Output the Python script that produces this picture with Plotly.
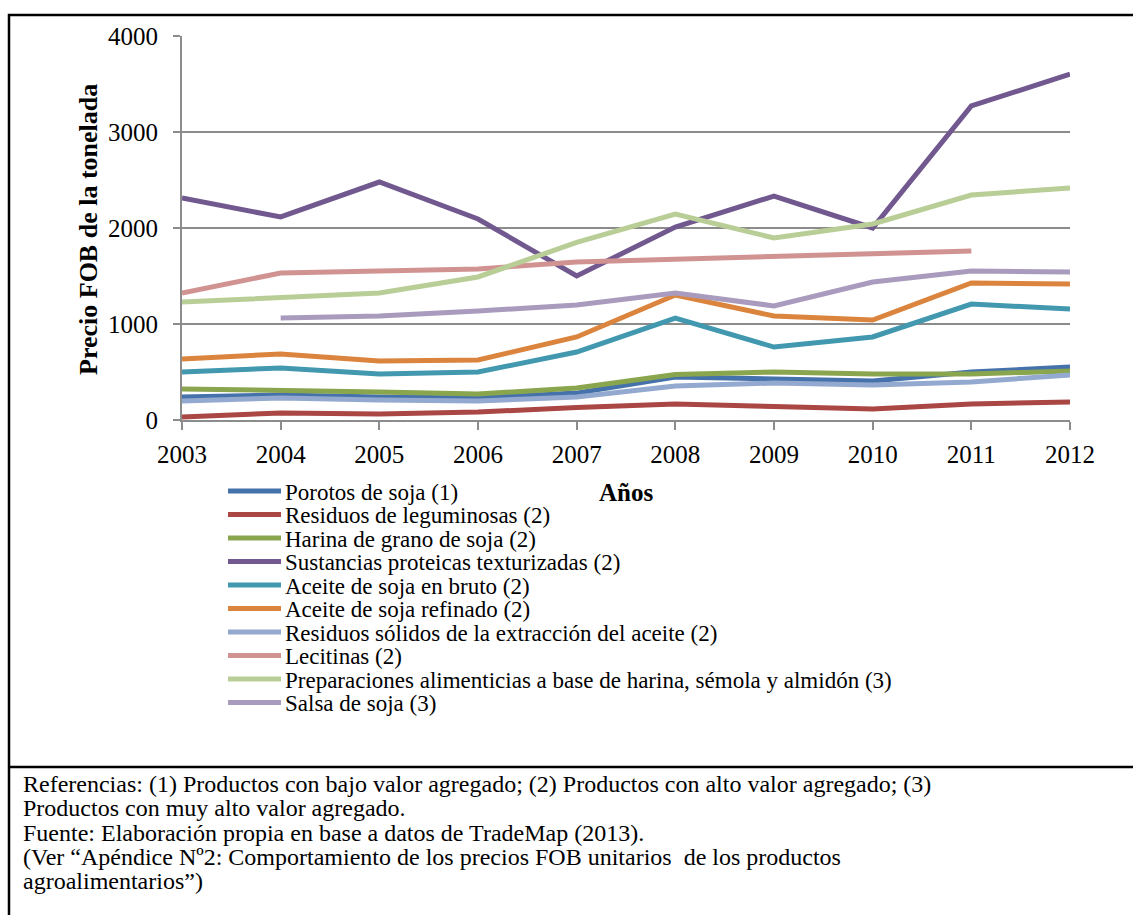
import plotly.graph_objects as go

years = [2003, 2004, 2005, 2006, 2007, 2008, 2009, 2010, 2011, 2012]

names = [
    "Porotos de soja (1)",
    "Residuos de leguminosas (2)",
    "Harina de grano de soja (2)",
    "Sustancias proteicas texturizadas (2)",
    "Aceite de soja en bruto (2)",
    "Aceite de soja refinado (2)",
    "Residuos sólidos de la extracción del aceite (2)",
    "Lecitinas (2)",
    "Preparaciones alimenticias a base de harina, sémola y almidón (3)",
    "Salsa de soja (3)",
]

porotos = [240, 260, 240, 230, 280, 448, 427, 406, 500, 552]
residuos_leg = [31, 73, 63, 83, 130, 167, 140, 115, 167, 188]
harina = [323, 312, 292, 271, 333, 475, 500, 479, 479, 510]
sustancias = [2312, 2115, 2479, 2094, 1500, 2010, 2333, 2000, 3271, 3604]
aceite_bruto = [500, 542, 479, 500, 708, 1062, 760, 865, 1208, 1156]
aceite_ref = [635, 688, 615, 625, 865, 1302, 1083, 1042, 1427, 1417]
residuos_sol = [198, 229, 208, 198, 240, 354, 385, 365, 396, 469]
lecitinas = [1323, 1531, 1552, 1573, 1646, 1677, 1708, 1740, 1760, None]
preparaciones = [1229, 1281, 1323, 1490, 1850, 2146, 1896, 2042, 2344, 2417]
salsa = [None, 1062, 1083, 1135, 1198, 1323, 1188, 1438, 1552, 1542]

series = [porotos, residuos_leg, harina, sustancias, aceite_bruto,
          aceite_ref, residuos_sol, lecitinas, preparaciones, salsa]

colors = ["#4672AB", "#AA4643", "#89A54E", "#71588F", "#4198AF",
          "#DB843D", "#93A9CF", "#D19392", "#B9CD96", "#A99BBD"]

y_ticks = [0, 1000, 2000, 3000, 4000]

notes = [
    "Referencias: (1) Productos con bajo valor agregado; (2) Productos con alto valor agregado; (3)",
    "Productos con muy alto valor agregado.",
    "Fuente: Elaboración propia en base a datos de TradeMap (2013).",
    "(Ver “Apéndice Nº2: Comportamiento de los precios FOB unitarios  de los productos",
    "agroalimentarios”)",
]

FONT = "Liberation Serif, Times New Roman, serif"
W, H = 1133, 915
PL, PR, PT, PB = 182, 1070, 36, 420


def X(px):
    return (px - PL) / (PR - PL)


def Y(py):
    return (PB - py) / (PB - PT)


fig = go.Figure()
for name, vals, col in zip(names, series, colors):
    fig.add_trace(go.Scatter(
        x=years, y=vals, name=name, mode="lines",
        line=dict(color=col, width=5), connectgaps=False, showlegend=False,
    ))

shapes = []
annotations = []

# outer frame and divider
shapes.append(dict(type="rect", xref="paper", yref="paper",
                   x0=X(9), x1=X(1150), y0=Y(15), y1=Y(940),
                   line=dict(color="black", width=2.5), layer="above"))
shapes.append(dict(type="line", xref="paper", yref="paper",
                   x0=X(9), x1=X(1150), y0=Y(767), y1=Y(767),
                   line=dict(color="black", width=2.5), layer="above"))

# legend (manual, compact spacing)
leg_top = 491
leg_step = 23.5
for i, (name, col) in enumerate(zip(names, colors)):
    yc = leg_top + i * leg_step
    shapes.append(dict(type="line", xref="paper", yref="paper",
                       x0=X(228), x1=X(281), y0=Y(yc), y1=Y(yc),
                       line=dict(color=col, width=5)))
    annotations.append(dict(xref="paper", yref="paper", x=X(283), y=Y(yc + 1),
                            xanchor="left", yanchor="middle", showarrow=False,
                            text=name, font=dict(family=FONT, size=23, color="black")))

# x-axis title
annotations.append(dict(xref="paper", yref="paper", x=X(626), y=Y(492),
                        xanchor="center", yanchor="middle", showarrow=False,
                        text="<b>Años</b>", font=dict(family=FONT, size=25, color="black")))

# y-axis title
annotations.append(dict(xref="paper", yref="paper", x=X(89), y=Y(230),
                        xanchor="center", yanchor="middle", showarrow=False, textangle=-90,
                        text="<b>Precio FOB de la tonelada</b>",
                        font=dict(family=FONT, size=26, color="black")))

# notes
for i, line in enumerate(notes):
    yc = 784 + i * 24.3
    annotations.append(dict(xref="paper", yref="paper", x=X(21), y=Y(yc),
                            xanchor="left", yanchor="middle", showarrow=False,
                            text=line, font=dict(family=FONT, size=24, color="black")))

fig.update_layout(
    width=W, height=H,
    margin=dict(l=PL, r=W - PR, t=PT, b=H - PB, pad=0),
    paper_bgcolor="white", plot_bgcolor="white",
    showlegend=False,
    font=dict(family=FONT, color="black"),
    shapes=shapes, annotations=annotations,
    xaxis=dict(range=[2003, 2012], tickvals=years, ticktext=[str(y) for y in years],
               showgrid=False, zeroline=False, showline=True, linecolor="#8c8c8c", linewidth=2,
               ticks="outside", ticklen=8, tickwidth=2, tickcolor="#8c8c8c",
               tickfont=dict(family=FONT, size=25, color="black"), ticklabelstandoff=3),
    yaxis=dict(range=[0, 4000], tickvals=y_ticks, ticktext=[str(v) for v in y_ticks],
               showgrid=True, gridcolor="#8c8c8c", gridwidth=2, zeroline=False,
               showline=True, linecolor="#8c8c8c", linewidth=2,
               ticks="outside", ticklen=7, tickwidth=2, tickcolor="#8c8c8c",
               tickfont=dict(family=FONT, size=25, color="black"), ticklabelstandoff=10),
)

fig.write_html("out.html")
